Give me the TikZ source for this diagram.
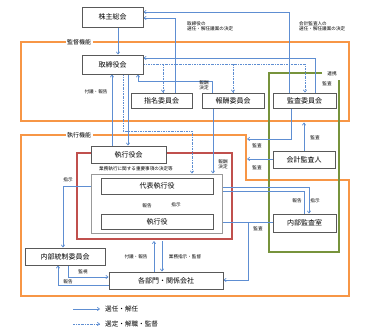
\documentclass[tikz,border=0pt]{standalone}
\usepackage{fontspec}
\setmainfont{Noto Sans CJK JP}
\usetikzlibrary{arrows.meta,shadows}
\definecolor{lblue}{HTML}{5E8ED2}
\definecolor{orng}{HTML}{F79646}
\definecolor{grn}{HTML}{77933C}
\definecolor{rd}{HTML}{C0504D}
\definecolor{bord}{HTML}{595959}
\pgfdeclarelayer{bg}
\pgfsetlayers{bg,main}
\tikzset{
 box/.style={draw=bord, line width=0.9pt, fill=white, inner sep=0pt,
   font=\fontsize{7}{8}\selectfont,
   drop shadow={shadow xshift=0.9pt, shadow yshift=-0.9pt, fill=gray!55, opacity=1}},
 sel/.style={draw=lblue, line width=0.7pt, -{Straight Barb[length=2.2pt,width=3.4pt]}},
 supv/.style={sel, dash pattern=on 2pt off 1pt on 0.6pt off 1pt},
 lbl/.style={font=\fontsize{4.6}{5.2}\selectfont, inner sep=0pt, align=left},
 myframe/.style={draw=orng, line width=1.3pt},
 flbl/.style={font=\fontsize{6}{7}\selectfont, fill=white, inner sep=1.5pt},
}
\begin{document}
\begin{tikzpicture}[x=1pt,y=-1pt]
\useasboundingbox (0,0) rectangle (369,331);
% boxes
\node[box, minimum width=61pt, minimum height=20pt] (sh) at (112.5,17) {株主総会};
\node[box, minimum width=61pt, minimum height=19pt] (bd) at (112.5,64.5) {取締役会};
\node[box, minimum width=61pt, minimum height=15pt] (nom) at (161.5,100.5) {指名委員会};
\node[box, minimum width=62pt, minimum height=15pt] (rem) at (233,100.5) {報酬委員会};
\node[box, minimum width=63pt, minimum height=15pt] (aud) at (304.5,100.5) {監査委員会};
\node[box, minimum width=62pt, minimum height=17pt] (acc) at (304,159.5) {会計監査人};
\node[box, minimum width=131pt, minimum height=59pt, draw=gray!80] (gray) at (156.5,203.5) {};
\node[box, minimum width=75pt, minimum height=17pt] (exc) at (128.5,154.5) {執行役会};
\node[box, minimum width=112pt, minimum height=16pt] (rep) at (157,186) {代表執行役};
\node[box, minimum width=112pt, minimum height=15pt] (off) at (157,221.5) {執行役};
\node[box, minimum width=80pt, minimum height=17pt] (ic) at (65,256.5) {内部統制委員会};
\node[box, minimum width=114pt, minimum height=17pt] (dept) at (166,280.5) {各部門・関係会社};
\node[box, minimum width=63pt, minimum height=18pt] (ia) at (304.5,223) {内部監査室};
% labels
\node[lbl, anchor=west] (t1) at (187,26.5) {取締役の\\選任・解任議案の決定};
\node[lbl, anchor=west] (t2) at (299,26.5) {会計監査人の\\選任・解任議案の決定};
\node[lbl] (t3) at (96,92) {付議・報告};
\node[lbl, align=center] (t4) at (204,85.5) {報酬\\決定};
\node[lbl] (t5) at (327,84) {監査};
\node[lbl] (t6) at (332,74) {連携};
\node[lbl, align=center] (t7) at (223,164.5) {報酬\\決定};
\node[lbl] (t8) at (257,146) {監査};
\node[lbl] (t9) at (257,168) {監査};
\node[lbl] (t10) at (315,138) {監査};
\node[lbl] (t11) at (136,169) {業務執行に関する重要事項の決定等};
\node[lbl] (t12) at (68,180) {指示};
\node[lbl] (t13) at (147,206) {報告};
\node[lbl] (t14) at (176,205) {指示};
\node[lbl] (t15) at (297,201) {報告};
\node[lbl] (t16) at (315,201) {指示};
\node[lbl] (t17) at (258,229) {監査};
\node[lbl] (t18) at (136,257) {付議・報告};
\node[lbl] (t19) at (185,257) {業務指示・監督};
\node[lbl] (t20) at (83,272) {監視};
\node[lbl] (t21) at (68,282) {報告};
% legend
\coordinate (la1) at (73,309); \coordinate (lb1) at (100,309);
\coordinate (la2) at (73,324); \coordinate (lb2) at (100,324);
\draw[sel] (la1) -- (lb1);
\draw[supv] (la2) -- (lb2);
\node[anchor=west, font=\fontsize{6.6}{7}\selectfont, inner sep=0pt] (g1) at (105,309) {選任・解任};
\node[anchor=west, font=\fontsize{6.6}{7}\selectfont, inner sep=0pt] (g2) at (105,324) {選定・解職・監督};
\begin{pgfonlayer}{bg}
% frames
\draw[myframe] (21,42) rectangle (349,121);
\draw[myframe] (21,135) -- (246,135) -- (246,180) -- (349,180) -- (349,296) -- (21,296) -- cycle;
\draw[grn, line width=1.3pt] (322,73) -- (269,73) -- (269,252) -- (339,252) -- (339,80);
\node[draw=rd, line width=1.6pt, minimum width=155pt, minimum height=86pt, inner sep=0pt] (red) at (154.5,196) {};
% connectors
\draw[sel] (sh.south -| 118,0) -- (bd.north -| 118,0);
\draw[sel] (nom.north -| 175,0) |- (sh.east |- 0,18);
\draw[sel] (aud.north -| 289,0) |- (sh.east |- 0,12);
\draw[sel] (aud.north -| 315,0) |- (bd.east |- 0,58);
\draw[sel] (rem.north -| 212,0) |- (138,81) -- (bd.south -| 138,0);
\draw[supv] (bd.east |- 0,64) -| (aud.north -| 305,0);
\draw[supv] (163,64) -- (nom.north -| 163,0);
\draw[supv] (233,64) -- (rem.north -| 233,0);
\draw[sel] (exc.north -| 112,0) -- (bd.south -| 112,0);
\draw[sel] (bd.south -| 128,0) -- (exc.north -| 128,0);
\draw[supv] (bd.south -| 123,0) |- (192,131) -- (gray.north -| 192,0);
\draw[sel] (rem.south -| 213,0) -- (gray.north -| 213,0);
\draw[sel] (off.north -| 158,0) -- (rep.south -| 158,0);
\draw[sel] (rep.south -| 165,0) -- (off.north -| 165,0);
\draw[sel] (rep.west) -| (ic.north -| 63,0);
\draw[sel] (ic.south -| 68,0) |- (dept.west |- 0,277);
\draw[sel] (dept.west |- 0,285) -| (ic.south -| 58,0);
\draw[sel] (dept.north -| 154,0) -- (154,241);
\draw[sel] (162,241) -- (dept.north -| 162,0);
\draw[sel] (rep.east |- 0,187) -| (ia.north -| 309,0);
\draw[sel] (ia.north -| 304,0) |- (rep.east |- 0,191);
\draw[sel] (ia.west |- 0,222) -- (off.east |- 0,222);
\draw[sel] (248,222) |- (dept.east |- 0,280);
\coordinate (fa) at (247,139);
\coordinate (fb) at (247,159);
\coordinate (fc) at (304,122.5);
\draw[sel] (aud.south -| 291,0) |- (fa);
\draw[sel] (acc.west |- 0,159) -- (fb);
\draw[sel] (acc.north -| 304,0) -- (fc);
\end{pgfonlayer}
\node[flbl] (f1) at (79,42) {監督機能};
\node[flbl] (f2) at (79,135) {執行機能};
\end{tikzpicture}
\end{document}
